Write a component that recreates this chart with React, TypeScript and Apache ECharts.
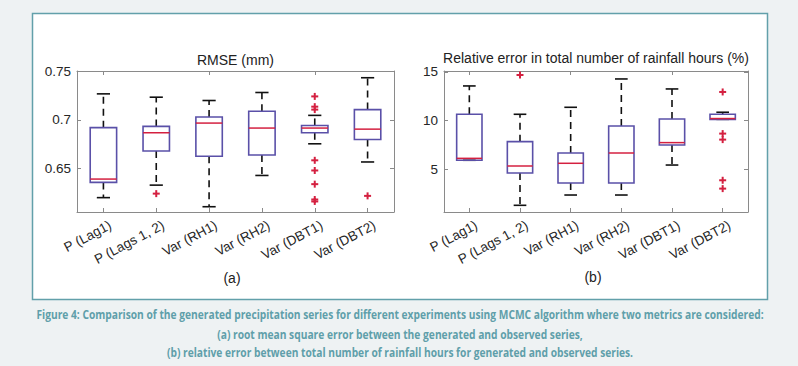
import React, { useEffect, useRef } from 'react';
import * as echarts from 'echarts';

const categories = ['P (Lag1)', 'P (Lags 1, 2)', 'Var (RH1)', 'Var (RH2)', 'Var (DBT1)', 'Var (DBT2)'];

// Panel (a): RMSE (mm)
const rmseLow = [0.6204, 0.6332, 0.6111, 0.6431, 0.6755, 0.6569];
const rmseQ1 = [0.636, 0.6682, 0.6627, 0.6641, 0.6868, 0.6799];
const rmseMedian = [0.6394, 0.6868, 0.6967, 0.6916, 0.6916, 0.6905];
const rmseQ3 = [0.692, 0.6933, 0.7029, 0.7088, 0.6943, 0.7105];
const rmseHigh = [0.7266, 0.7232, 0.7198, 0.728, 0.7046, 0.7431];
const rmseOutliers = [
  [1, 0.6245],
  [4, 0.724], [4, 0.7135], [4, 0.7105], [4, 0.6586], [4, 0.6482], [4, 0.6342], [4, 0.6185], [4, 0.6165],
  [5, 0.6222],
];
const rmseTicks = [0.65, 0.7, 0.75];

// Panel (b): Relative error in total number of rainfall hours (%)
const relLow = [5.9, 1.26, 2.32, 2.32, 5.41, 10.12];
const relQ1 = [5.9, 4.59, 3.56, 3.56, 7.47, 10.12];
const relMedian = [6.1, 5.31, 5.59, 6.65, 7.72, 10.2];
const relQ3 = [10.64, 7.82, 6.65, 9.43, 10.15, 10.64];
const relHigh = [13.56, 10.64, 11.36, 14.28, 13.25, 10.85];
const relOutliers = [
  [1, 14.69],
  [5, 12.94], [5, 8.65], [5, 8.03], [5, 3.84], [5, 2.98],
];
const relTicks = [5, 10, 15];

const captionLines = [
  'Figure 4: Comparison of the generated precipitation series for different experiments using MCMC algorithm where two metrics are considered:',
  '(a) root mean square error between the generated and observed series,',
  '(b) relative error between total number of rainfall hours for generated and observed series.',
];
const captionWidths = [728, 366, 466];

const FONT = "'Liberation Sans', Arial, Helvetica, sans-serif";
const CAPTION_FONT_SPEC = "bold 13px 'Open Sans', 'Liberation Sans', sans-serif";
const BOX_COLOR = '#5a50a8';
const MED_COLOR = '#d42040';
const OUT_COLOR = '#d42040';
const AXIS_COLOR = '#8a8a8a';
const TEXT_COLOR = '#262626';

function boxData(lo: number[], q1: number[], med: number[], q3: number[], hi: number[]) {
  return lo.map((v, i) => [i, v, q1[i], med[i], q3[i], hi[i]]);
}

function measure(text: string, font: string): number {
  const c = document.createElement('canvas');
  const ctx = c.getContext('2d');
  if (!ctx) return text.length * 6.5;
  ctx.font = font;
  return ctx.measureText(text).width;
}

const renderBox = (params: any, api: any) => {
  const i = api.value(0);
  const lo = api.coord([i, api.value(1)]);
  const q1 = api.coord([i, api.value(2)]);
  const md = api.coord([i, api.value(3)]);
  const q3 = api.coord([i, api.value(4)]);
  const hi = api.coord([i, api.value(5)]);
  const bw = api.size([1, 0])[0];
  const half = bw * 0.25;
  const capHalf = bw * 0.125;
  const x = lo[0];
  const dash = { stroke: '#111', lineWidth: 1.6, lineDash: [7, 5] };
  const cap = { stroke: '#111', lineWidth: 1.6 };
  return {
    type: 'group',
    children: [
      { type: 'line', shape: { x1: x, y1: q3[1], x2: x, y2: hi[1] }, style: dash },
      { type: 'line', shape: { x1: x, y1: q1[1], x2: x, y2: lo[1] }, style: dash },
      { type: 'line', shape: { x1: x - capHalf, y1: hi[1], x2: x + capHalf, y2: hi[1] }, style: cap },
      { type: 'line', shape: { x1: x - capHalf, y1: lo[1], x2: x + capHalf, y2: lo[1] }, style: cap },
      {
        type: 'rect',
        shape: { x: x - half, y: q3[1], width: half * 2, height: q1[1] - q3[1] },
        style: { fill: 'none', stroke: BOX_COLOR, lineWidth: 1.6 },
      },
      { type: 'line', shape: { x1: x - half, y1: md[1], x2: x + half, y2: md[1] }, style: { stroke: MED_COLOR, lineWidth: 1.5 } },
    ],
  };
};

const renderPlus = (params: any, api: any) => {
  const p = api.coord([api.value(0), api.value(1)]);
  const s = 3.5;
  const st = { stroke: OUT_COLOR, lineWidth: 2 };
  return {
    type: 'group',
    children: [
      { type: 'line', shape: { x1: p[0] - s, y1: p[1], x2: p[0] + s, y2: p[1] }, style: st },
      { type: 'line', shape: { x1: p[0], y1: p[1] - s, x2: p[0], y2: p[1] + s }, style: st },
    ],
  };
};

function xAxes(gridIndex: number) {
  const common = {
    gridIndex,
    type: 'category',
    data: categories,
    axisLine: { show: true, lineStyle: { color: AXIS_COLOR, width: 1 } },
    axisTick: { show: true, inside: true, alignWithLabel: true, length: 4, lineStyle: { color: AXIS_COLOR } },
  };
  return [
    {
      ...common,
      position: 'bottom',
      axisLabel: {
        rotate: 28,
        interval: 0,
        color: TEXT_COLOR,
        fontSize: 13.5,
        fontFamily: FONT,
        margin: 16,
        padding: [0, -8, 0, 0],
      },
    },
    { ...common, position: 'top', axisLabel: { show: false } },
  ];
}

function yAxes(gridIndex: number, min: number, max: number, ticks: number[]) {
  const common = {
    gridIndex,
    type: 'value',
    min,
    max,
    splitLine: { show: false },
    axisLine: { show: true, lineStyle: { color: AXIS_COLOR, width: 1 } },
    axisTick: { show: true, inside: true, length: 4, customValues: ticks, lineStyle: { color: AXIS_COLOR } },
  };
  return [
    {
      ...common,
      position: 'left',
      axisLabel: { customValues: ticks, color: TEXT_COLOR, fontSize: 13.5, fontFamily: FONT, margin: 6 },
    },
    { ...common, position: 'right', axisLabel: { show: false } },
  ];
}

export default function App() {
  const ref = useRef<HTMLDivElement>(null);
  useEffect(() => {
    document.body.style.margin = '0';
    const chart = echarts.init(ref.current!, undefined, { renderer: 'svg' });
    const centered = { align: 'center', verticalAlign: 'middle', textAlign: 'center', textVerticalAlign: 'middle' };
    const option: any = {
      animation: false,
      backgroundColor: '#eef2f3',
      grid: [
        { left: 77, top: 71, width: 317, height: 141, show: false },
        { left: 444, top: 71, width: 304, height: 141, show: false },
      ],
      xAxis: [...xAxes(0), ...xAxes(1)],
      yAxis: [...yAxes(0, 0.6057, 0.75, rmseTicks), ...yAxes(1, 0.57, 15.1, relTicks)],
      series: [
        {
          type: 'custom',
          xAxisIndex: 0,
          yAxisIndex: 0,
          renderItem: renderBox,
          encode: { x: 0, y: [1, 2, 3, 4, 5] },
          data: boxData(rmseLow, rmseQ1, rmseMedian, rmseQ3, rmseHigh),
          z: 3,
        },
        {
          type: 'custom',
          xAxisIndex: 0,
          yAxisIndex: 0,
          renderItem: renderPlus,
          encode: { x: 0, y: 1 },
          data: rmseOutliers,
          z: 4,
        },
        {
          type: 'custom',
          xAxisIndex: 2,
          yAxisIndex: 2,
          renderItem: renderBox,
          encode: { x: 0, y: [1, 2, 3, 4, 5] },
          data: boxData(relLow, relQ1, relMedian, relQ3, relHigh),
          z: 3,
        },
        {
          type: 'custom',
          xAxisIndex: 2,
          yAxisIndex: 2,
          renderItem: renderPlus,
          encode: { x: 0, y: 1 },
          data: relOutliers,
          z: 4,
        },
      ],
      graphic: [
        {
          type: 'rect',
          z: -10,
          shape: { x: 32.5, y: 13.5, width: 735, height: 286 },
          style: { fill: '#ffffff', stroke: '#62a0aa', lineWidth: 1.5 },
        },
        {
          type: 'text',
          x: 235.5,
          y: 60,
          style: { text: 'RMSE (mm)', ...centered, fill: '#222', font: `14px ${FONT}` },
        },
        {
          type: 'text',
          x: 596,
          y: 58,
          style: { text: 'Relative error in total number of rainfall hours (%)', ...centered, fill: '#222', font: `14px ${FONT}` },
        },
        {
          type: 'text',
          x: 232,
          y: 278,
          style: { text: '(a)', ...centered, fill: '#222', font: `14px ${FONT}` },
        },
        {
          type: 'text',
          x: 593,
          y: 277,
          style: { text: '(b)', ...centered, fill: '#222', font: `14px ${FONT}` },
        },
        ...captionLines.map((t, k) => {
          const w = measure(t, CAPTION_FONT_SPEC);
          const sx = w > 0 ? Math.min(1, captionWidths[k] / w) : 0.8;
          return {
            type: 'text',
            x: 400,
            y: 314 + k * 19,
            scaleX: sx,
            style: { text: t, ...centered, fill: '#5f9faa', font: CAPTION_FONT_SPEC },
          };
        }),
      ],
    };
    chart.setOption(option);
    return () => chart.dispose();
  }, []);
  return <div ref={ref} style={{ position: 'absolute', left: 0, top: 0, width: 798, height: 366 }} />;
}
